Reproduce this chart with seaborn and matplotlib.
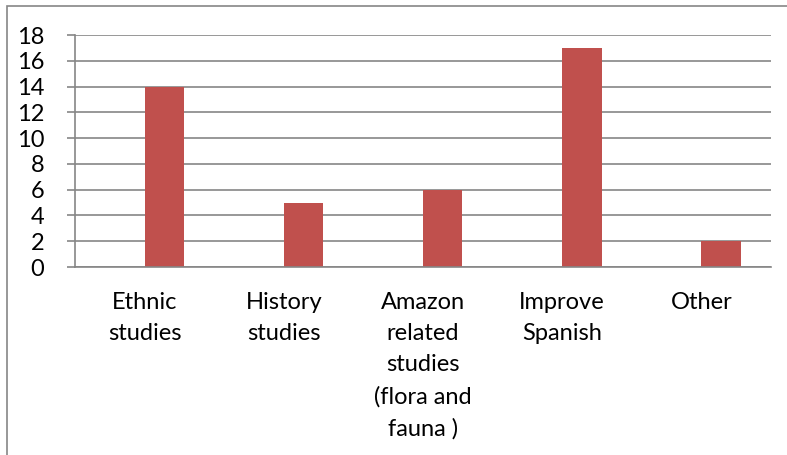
import numpy as np
import pandas as pd
import matplotlib.pyplot as plt
import matplotlib.patches as mpatches
import seaborn as sns

categories = ["Ethnic\nstudies", "History\nstudies",
              "Amazon\nrelated\nstudies\n(flora and\nfauna )",
              "Improve\nSpanish", "Other"]
counts = [14, 5, 6, 17, 2]
y_ticks = list(range(0, 19, 2))

BAR_COLOR = "#C0504D"
GRID_COLOR = "#868686"

sns.set_theme(style="white")
plt.rcParams["font.family"] = ["Lato", "DejaVu Sans"]

# Excel-style: an empty first series pushes the visible bar right of centre
df = pd.DataFrame({
    "category": categories * 2,
    "series": ["blank"] * len(categories) + ["count"] * len(categories),
    "value": [np.nan] * len(categories) + counts,
})

fig = plt.figure(figsize=(7.87, 4.55), dpi=100)
ax = fig.add_axes([75 / 787, 1 - 267 / 455, (771 - 75) / 787, (267 - 35) / 455])

sns.barplot(data=df, x="category", y="value", hue="series",
            palette={"blank": "white", "count": BAR_COLOR}, saturation=1,
            width=0.565, dodge=True, legend=False, errorbar=None,
            linewidth=0, ax=ax)

ax.set_ylim(0, 18)
ax.set_xlim(-0.5, len(categories) - 0.5)
ax.set_yticks(y_ticks)
ax.set_yticklabels([str(t) for t in y_ticks], fontsize=17, color="black")
ax.set_xlabel("")
ax.set_ylabel("")

ax.yaxis.grid(True, color=GRID_COLOR, linewidth=1.2)
ax.set_axisbelow(True)

ax.set_xticks(range(len(categories)))
ax.set_xticklabels(categories, fontsize=17, color="black", linespacing=1.6,
                   va="top")
ax.set_xticks(np.arange(-0.5, len(categories), 1.0), minor=True)
ax.tick_params(axis="x", which="major", length=0, pad=18)
ax.tick_params(axis="x", which="minor", length=6, width=1.2, color=GRID_COLOR)
ax.tick_params(axis="y", length=6, width=1.2, color=GRID_COLOR, left=True, pad=16)

for side in ["top", "right"]:
    ax.spines[side].set_visible(False)
for side in ["left", "bottom"]:
    ax.spines[side].set_color(GRID_COLOR)
    ax.spines[side].set_linewidth(1.2)

# outer chart frame
frame = mpatches.Rectangle((7 / 787, -0.1), 1.2, 1 - 6 / 455 + 0.1,
                           transform=fig.transFigure, fill=False,
                           edgecolor=GRID_COLOR, linewidth=1.2)
fig.patches.append(frame)

fig.savefig("out.png", dpi=100)
